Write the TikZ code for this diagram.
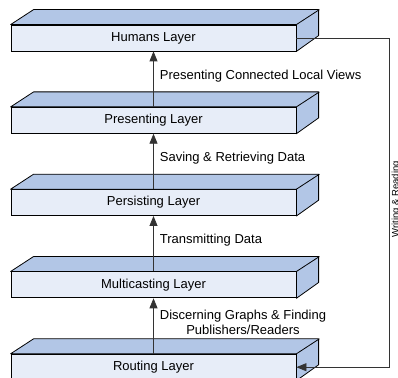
\documentclass[tikz,border=0pt]{standalone}
\usepackage{fontspec}
\setmainfont{Liberation Sans}
\usetikzlibrary{positioning,arrows.meta}
\definecolor{frontblue}{RGB}{231,237,248}
\definecolor{topblue}{RGB}{178,198,230}

\begin{document}
\begin{tikzpicture}[x=1pt, y=1pt,
    layer/.style={rectangle, draw=black, fill=frontblue, line width=0.8pt,
        minimum width=285pt, minimum height=26pt, inner sep=0pt,
        font=\fontsize{13}{15}\selectfont, text=black},
    face/.style={draw=black, fill=topblue, line width=0.8pt, line join=round},
    flow/.style={-{Triangle[length=10pt,width=8pt]}, line width=0.8pt, draw=black!80},
    lbl/.style={font=\fontsize{13}{15}\selectfont, inner sep=0pt, align=center, text=black},
    node distance=55.5pt
]
\useasboundingbox (0,0) rectangle (398,377);

% the five layers, top to bottom
\node (L5) [layer] at (153.5,339) {Humans Layer};
\node (L4) [layer, below=of L5] {Presenting Layer};
\node (L3) [layer, below=of L4] {Persisting Layer};
\node (L2) [layer, below=of L3] {Multicasting Layer};
\node (L1) [layer, below=of L2] {Routing Layer};

% top and side faces
\foreach \n in {L1,L2,L3,L4,L5} {
    \filldraw[face] (\n.north west) -- ++(23,15) -- ++(285,0) -- ++(0,-26)
        -- (\n.south east) -- (\n.north east) -- cycle;
    \draw[line width=0.8pt] (\n.north east) -- ++(23,15);
}

% arrows between layers
\draw[flow] (L1.north) -- node[lbl, pos=0.56, right=6pt] (T1)
    {Discerning Graphs \& Finding\\Publishers/Readers} (L2.south);
\draw[flow] (L2.north) -- node[lbl, pos=0.56, right=6pt] (T2) {Transmitting Data} (L3.south);
\draw[flow] (L3.north) -- node[lbl, pos=0.56, right=6pt] (T3) {Saving \& Retrieving Data} (L4.south);
\draw[flow] (L4.north) -- node[lbl, pos=0.56, right=6pt] (T4) {Presenting Connected Local Views} (L5.south);

% feedback from humans down to routing
\draw[flow] (L5.east) -- ++(93,0) coordinate (c) |- node[lbl, pos=0.245, rotate=90,
    anchor=north, inner sep=2pt, font=\fontsize{9.5}{11}\selectfont] (W) {Writing \& Reading} (L1.east);
\end{tikzpicture}
\end{document}
